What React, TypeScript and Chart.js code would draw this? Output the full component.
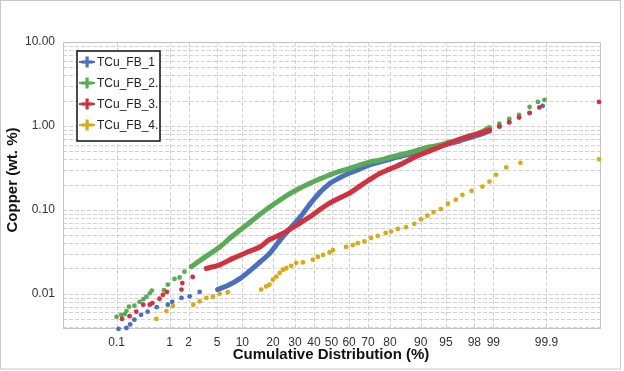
import React, { useEffect, useRef } from "react";
import { Chart, registerables } from "chart.js";
Chart.register(...registerables);

const seriesNames = ["TCu_FB_1", "TCu_FB_2.", "TCu_FB_3.", "TCu_FB_4."];
const seriesColors = ["#4a6fbf", "#5aab55", "#d0323f", "#d8ab14"];

const xTickPercents = [0.1, 1, 2, 5, 10, 20, 30, 40, 50, 60, 70, 80, 90, 95, 98, 99, 99.9];
const xTickLabels = ["0.1", "1", "2", "5", "10", "20", "30", "40", "50", "60", "70", "80", "90", "95", "98", "99", "99.9"];
const yTickValues = [0.01, 0.1, 1, 10];
const yTickLabels = ["0.01", "0.10", "1.00", "10.00"];

// TCu_FB_1 (blue)
const fb1Pct = [0.11, 0.16, 0.19, 0.23, 0.31, 0.41, 0.6, 0.93, 1.1, 1.55, 2.07, 2.9, 5.1, 7.1, 9.3, 11.9, 15.1, 18.6, 22.8, 27.3, 32.3, 37.6, 43.2, 48.9, 54.6, 60.2, 65.6, 70.7, 75.5, 79.8, 83.6, 86.9, 89.7, 92.0, 93.97, 95.5, 96.7, 97.6, 98.3, 98.84, 99.21, 99.47, 99.65, 99.78, 99.88];
const fb1Cu = [0.0038, 0.0039, 0.0043, 0.0049, 0.0056, 0.0061, 0.0069, 0.0074, 0.008, 0.0089, 0.0093, 0.0105, 0.0112, 0.0128, 0.015, 0.0186, 0.0237, 0.03, 0.043, 0.059, 0.08, 0.115, 0.16, 0.205, 0.24, 0.275, 0.305, 0.343, 0.37, 0.4, 0.43, 0.46, 0.49, 0.53, 0.58, 0.62, 0.66, 0.72, 0.78, 0.87, 1.0, 1.11, 1.28, 1.43, 1.73];
const fb1Dense = [12, 39];

// TCu_FB_2 (green)
const fb2Pct = [0.1, 0.125, 0.147, 0.16, 0.18, 0.23, 0.29, 0.34, 0.39, 0.45, 0.49, 0.8, 0.93, 1.2, 1.45, 1.73, 2.2, 2.7, 3.6, 5.4, 7.6, 11.9, 15.1, 18.6, 22.8, 27.3, 32.3, 37.6, 43.2, 48.9, 54.6, 60.2, 65.6, 70.7, 75.5, 79.8, 83.6, 86.9, 89.7, 92.0, 93.97, 95.5, 96.7, 97.6, 98.3, 98.84, 99.21, 99.47, 99.65, 99.78, 99.85, 99.89];
const fb2Cu = [0.0053, 0.0056, 0.0057, 0.0062, 0.007, 0.0072, 0.008, 0.0086, 0.0092, 0.0101, 0.0109, 0.011, 0.0128, 0.015, 0.0156, 0.0183, 0.021, 0.0237, 0.028, 0.036, 0.048, 0.07, 0.088, 0.107, 0.13, 0.155, 0.18, 0.206, 0.233, 0.26, 0.287, 0.31, 0.34, 0.37, 0.39, 0.42, 0.45, 0.48, 0.52, 0.56, 0.59, 0.64, 0.68, 0.76, 0.82, 0.95, 1.06, 1.21, 1.35, 1.68, 1.93, 2.04];
const fb2Dense = [16, 45];

// TCu_FB_3 (red)
const fb3Pct = [0.13, 0.185, 0.25, 0.34, 0.45, 0.5, 0.67, 0.77, 0.9, 1.55, 1.6, 2.3, 3.6, 5.4, 7.6, 11.9, 15.1, 18.6, 22.8, 27.3, 32.3, 37.6, 43.2, 48.9, 54.6, 60.2, 65.6, 70.7, 75.5, 79.8, 83.6, 86.9, 89.7, 92.0, 93.97, 95.5, 96.7, 97.6, 98.3, 98.84, 99.21, 99.47, 99.65, 99.78, 99.86, 99.994];
const fb3Cu = [0.005, 0.0054, 0.0061, 0.0074, 0.0074, 0.0077, 0.0087, 0.0097, 0.0105, 0.0112, 0.0134, 0.0158, 0.02, 0.0221, 0.026, 0.032, 0.036, 0.044, 0.05, 0.058, 0.069, 0.082, 0.1, 0.12, 0.138, 0.158, 0.19, 0.228, 0.27, 0.305, 0.343, 0.395, 0.45, 0.5, 0.56, 0.62, 0.69, 0.75, 0.81, 0.89, 0.98, 1.1, 1.26, 1.42, 1.66, 1.93];
const fb3Dense = [12, 39];

// TCu_FB_4 (yellow)
const fb4Pct = [0.59, 0.88, 1.13, 2.35, 2.9, 3.6, 4.4, 5.4, 6.8, 15.6, 17.4, 18.6, 20.0, 21.4, 22.8, 24.3, 25.8, 28.1, 30.6, 34.1, 39.4, 42.2, 45.2, 48.9, 50.8, 58.3, 62.0, 64.7, 68.2, 71.5, 74.7, 78.2, 80.4, 83.0, 85.8, 88.3, 90.1, 91.6, 92.9, 94.2, 95.3, 96.3, 97.0, 97.8, 98.5, 98.84, 99.1, 99.4, 99.67, 99.994];
const fb4Cu = [0.005, 0.0062, 0.0071, 0.0074, 0.0081, 0.0089, 0.0092, 0.01, 0.0104, 0.0112, 0.0122, 0.0128, 0.0147, 0.016, 0.0177, 0.0193, 0.0201, 0.0215, 0.0233, 0.0236, 0.0254, 0.0274, 0.029, 0.031, 0.033, 0.036, 0.038, 0.04, 0.042, 0.046, 0.049, 0.053, 0.055, 0.059, 0.062, 0.068, 0.077, 0.085, 0.094, 0.102, 0.118, 0.132, 0.151, 0.168, 0.189, 0.217, 0.261, 0.32, 0.363, 0.4];
const fb4Dense: number[] = [];

const seriesPct = [fb1Pct, fb2Pct, fb3Pct, fb4Pct];
const seriesCu = [fb1Cu, fb2Cu, fb3Cu, fb4Cu];
const seriesDense = [fb1Dense, fb2Dense, fb3Dense, fb4Dense];

// inverse normal CDF (probability-paper axis)
function probit(pct: number): number {
  const p = pct / 100;
  const a = [-3.969683028665376e1, 2.209460984245205e2, -2.759285104469687e2, 1.38357751867269e2, -3.066479806614716e1, 2.506628277459239];
  const b = [-5.447609879822406e1, 1.615858368580409e2, -1.556989798598866e2, 6.680131188771972e1, -1.328068155288572e1];
  const c = [-7.784894002430293e-3, -3.223964580411365e-1, -2.400758277161838, -2.549732539343734, 4.374664141464968, 2.938163982698783];
  const d = [7.784695709041462e-3, 3.224671290700398e-1, 2.445134137142996, 3.754408661907416];
  const pl = 0.02425;
  if (p < pl) {
    const q = Math.sqrt(-2 * Math.log(p));
    return (((((c[0] * q + c[1]) * q + c[2]) * q + c[3]) * q + c[4]) * q + c[5]) / ((((d[0] * q + d[1]) * q + d[2]) * q + d[3]) * q + 1);
  }
  if (p <= 1 - pl) {
    const q = p - 0.5;
    const r = q * q;
    return ((((((a[0] * r + a[1]) * r + a[2]) * r + a[3]) * r + a[4]) * r + a[5]) * q) / (((((b[0] * r + b[1]) * r + b[2]) * r + b[3]) * r + b[4]) * r + 1);
  }
  const q = Math.sqrt(-2 * Math.log(1 - p));
  return -(((((c[0] * q + c[1]) * q + c[2]) * q + c[3]) * q + c[4]) * q + c[5]) / ((((d[0] * q + d[1]) * q + d[2]) * q + d[3]) * q + 1);
}

const FONT = '"Liberation Sans", Arial, sans-serif';

export default function App() {
  const canvasRef = useRef<HTMLCanvasElement | null>(null);

  useEffect(() => {
    const canvas = canvasRef.current;
    if (!canvas) return;

    const datasets: any[] = [];
    seriesNames.forEach((name, i) => {
      const pts = seriesPct[i].map((p, k) => ({ x: probit(p), y: seriesCu[i][k] }));
      const dense = seriesDense[i];
      if (dense.length === 2) {
        datasets.push({
          label: name + " band",
          data: pts.slice(dense[0], dense[1] + 1),
          showLine: true,
          borderColor: seriesColors[i],
          borderWidth: 5,
          borderJoinStyle: "round",
          borderCapStyle: "round",
          pointRadius: 0,
          tension: 0.35,
          order: 10 - i,
        });
      }
      datasets.push({
        label: name,
        data: pts,
        showLine: false,
        pointRadius: 2.4,
        pointBorderWidth: 0,
        pointBackgroundColor: seriesColors[i],
        borderColor: seriesColors[i],
        clip: false,
        order: 10 - i,
      });
    });

    const gridPlugin = {
      id: "probGrid",
      beforeDatasetsDraw(chart: any) {
        const { ctx, chartArea, scales } = chart;
        const { left, right, top, bottom } = chartArea;
        ctx.save();
        ctx.strokeStyle = "#d2d2d2";
        ctx.lineWidth = 1;
        ctx.setLineDash([4, 2]);
        const ys = scales.y;
        for (const dec of [0.001, 0.01, 0.1, 1, 10]) {
          for (let k = 1; k <= 9; k++) {
            const v = dec * k;
            if (v < ys.min || v > ys.max) continue;
            const y = Math.round(ys.getPixelForValue(v)) + 0.5;
            ctx.beginPath();
            ctx.moveTo(left, y);
            ctx.lineTo(right, y);
            ctx.stroke();
          }
        }
        const xs = scales.x;
        for (const p of xTickPercents) {
          const x = Math.round(xs.getPixelForValue(probit(p))) + 0.5;
          ctx.beginPath();
          ctx.moveTo(x, top);
          ctx.lineTo(x, bottom);
          ctx.stroke();
        }
        ctx.setLineDash([]);
        ctx.strokeStyle = "#c4c4c4";
        ctx.strokeRect(Math.round(left) + 0.5, Math.round(top) + 0.5, Math.round(right - left), Math.round(bottom - top));
        ctx.restore();
      },
      afterDraw(chart: any) {
        const { ctx } = chart;
        ctx.save();
        ctx.strokeStyle = "#c8c8c8";
        ctx.lineWidth = 1;
        ctx.strokeRect(0.5, 0.5, 620, 368.5);
        ctx.fillStyle = "#111111";
        ctx.font = "bold 15px " + FONT;
        ctx.textAlign = "center";
        ctx.textBaseline = "middle";
        ctx.fillText("Cumulative Distribution (%)", 331, 355);
        ctx.save();
        ctx.translate(13, 180);
        ctx.rotate(-Math.PI / 2);
        ctx.fillText("Copper (wt. %)", 0, 0);
        ctx.restore();
        const bx = 77, by = 51, bw = 83, bh = 90;
        ctx.fillStyle = "#ffffff";
        ctx.fillRect(bx, by, bw, bh);
        ctx.save();
        ctx.beginPath();
        ctx.rect(bx, by, bw, bh);
        ctx.clip();
        seriesNames.forEach((name, i) => {
          const cy = 62 + i * 21;
          const col = seriesColors[i];
          ctx.strokeStyle = col;
          ctx.lineWidth = 2;
          ctx.beginPath();
          ctx.moveTo(79, cy);
          ctx.lineTo(95, cy);
          ctx.stroke();
          ctx.fillStyle = col;
          ctx.fillRect(85.5, cy - 5.5, 3.2, 11);
          ctx.fillRect(81.5, cy - 1.6, 11.2, 3.2);
          ctx.fillStyle = "#222222";
          ctx.font = "12px " + FONT;
          ctx.textAlign = "left";
          ctx.textBaseline = "middle";
          ctx.fillText(name, 97, cy + 0.5);
        });
        ctx.restore();
        ctx.strokeStyle = "#111111";
        ctx.lineWidth = 1.5;
        ctx.strokeRect(bx, by, bw, bh);
        ctx.restore();
      },
    };

    const chart = new Chart(canvas, {
      type: "scatter",
      data: { datasets },
      options: {
        responsive: false,
        animation: false,
        layout: { padding: { top: 42, right: 24, left: 0, bottom: 0 } },
        plugins: { legend: { display: false }, tooltip: { enabled: false } },
        scales: {
          x: {
            type: "linear",
            min: -3.86,
            max: 3.86,
            grid: { display: false, drawTicks: false },
            border: { display: false },
            afterBuildTicks: (axis: any) => {
              axis.ticks = xTickPercents.map((p) => ({ value: probit(p) }));
            },
            afterFit: (axis: any) => {
              axis.height = 43;
            },
            ticks: {
              autoSkip: false,
              maxRotation: 0,
              padding: 7,
              color: "#333333",
              font: { size: 12, family: FONT },
              callback: (_v: any, i: number) => xTickLabels[i],
            },
          },
          y: {
            type: "logarithmic",
            min: 0.0039,
            max: 10,
            grid: { display: false, drawTicks: false },
            border: { display: false },
            afterBuildTicks: (axis: any) => {
              axis.ticks = yTickValues.map((v) => ({ value: v }));
            },
            afterFit: (axis: any) => {
              axis.width = 63;
            },
            ticks: {
              autoSkip: false,
              padding: 8,
              color: "#333333",
              font: { size: 12, family: FONT },
              callback: (_v: any, i: number) => yTickLabels[i],
            },
          },
        },
      },
      plugins: [gridPlugin],
    } as any);

    return () => chart.destroy();
  }, []);

  return (
    <div style={{ position: "absolute", left: 0, top: 0, width: 624, height: 371, background: "#ffffff" }}>
      <canvas ref={canvasRef} width={624} height={371} style={{ width: 624, height: 371, display: "block" }} />
    </div>
  );
}
